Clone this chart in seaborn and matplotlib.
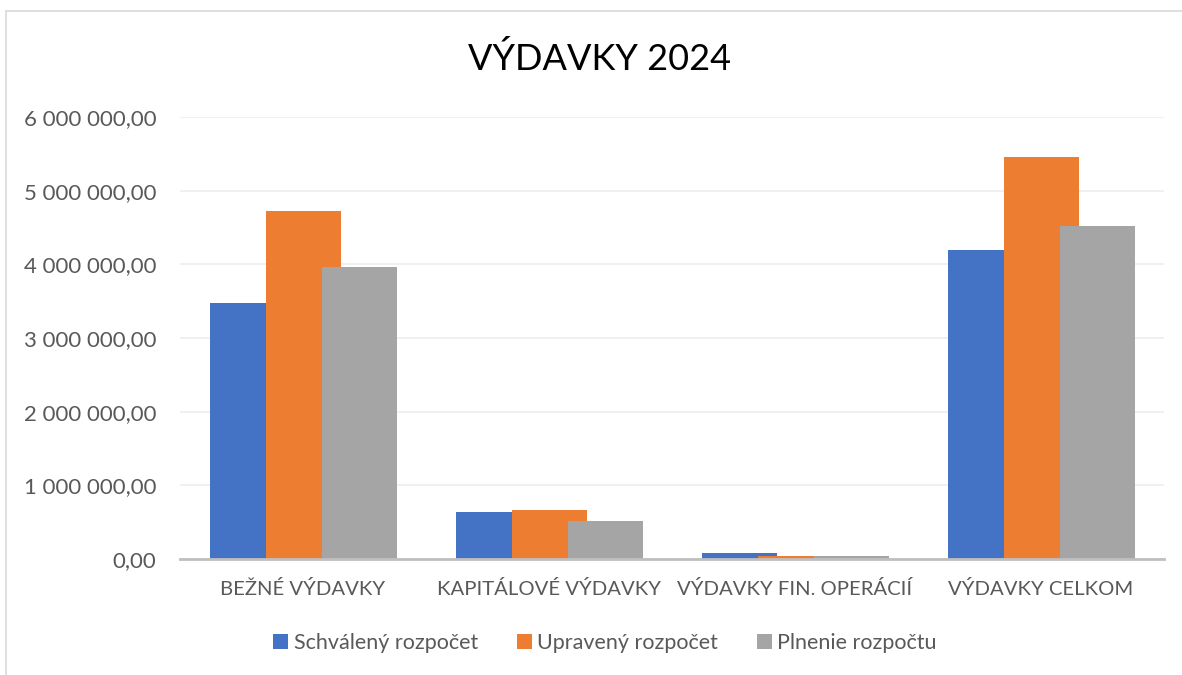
import matplotlib
matplotlib.use("Agg")
import matplotlib.pyplot as plt
from matplotlib.patches import Patch
from matplotlib.lines import Line2D
from matplotlib.ticker import FuncFormatter
import pandas as pd
import seaborn as sns

# Data
categories = ["BEŽNÉ VÝDAVKY", "KAPITÁLOVÉ VÝDAVKY", "VÝDAVKY FIN. OPERÁCIÍ", "VÝDAVKY CELKOM"]
series = ["Schválený rozpočet", "Upravený rozpočet", "Plnenie rozpočtu"]
schvaleny = [3475000, 638000, 80000, 4193000]
upraveny = [4724000, 668000, 40000, 5455000]
plnenie = [3964000, 516000, 40000, 4525000]
colors = ["#4472C4", "#ED7D31", "#A5A5A5"]
y_ticks = [0, 1000000, 2000000, 3000000, 4000000, 5000000, 6000000]

df = pd.DataFrame({
    "kategoria": categories * 3,
    "rad": [s for s in series for _ in categories],
    "hodnota": schvaleny + upraveny + plnenie,
})

sns.set_theme(style="white")
plt.rcParams["font.family"] = ["Lato", "DejaVu Sans"]
text_color = "#595959"

fig = plt.figure(figsize=(11.82, 6.75), dpi=100)
ax = fig.add_axes([180 / 1182, 1 - 559 / 675, 984 / 1182, 442 / 675])

step = 56 / 246   # distance between neighbouring bars (category units)
bar_w = 75 / 246  # drawn bar width, bars overlap like in Excel
sns.barplot(data=df, x="kategoria", y="hodnota", hue="rad", order=categories,
            hue_order=series, palette=colors, width=3 * step, gap=0,
            saturation=1, legend=False, ax=ax, linewidth=0, errorbar=None)
for p in ax.patches:
    p.set_x(p.get_x() - (bar_w - step) / 2)
    p.set_width(bar_w)

ax.set_xlim(-0.5, 3.5)
ax.set_ylim(0, 6000000)
ax.set_yticks(y_ticks)
ax.yaxis.set_major_formatter(FuncFormatter(
    lambda v, _: f"{v:,.2f}".replace(",", " ").replace(".", ",")))
ax.grid(axis="y", color="#EDEDED", linewidth=1.2)
ax.set_axisbelow(True)
for side in ["top", "right", "left"]:
    ax.spines[side].set_visible(False)
ax.spines["bottom"].set_color("#BFBFBF")
ax.spines["bottom"].set_linewidth(2)
ax.set_xlabel("")
ax.set_ylabel("")
ax.tick_params(axis="y", length=0, pad=17, labelsize=16, labelcolor=text_color)
ax.tick_params(axis="x", length=0, pad=15, labelsize=14.6, labelcolor=text_color)

fig.text(600 / 1182, 1 - 59 / 675, "VÝDAVKY 2024", ha="center", va="center",
         fontsize=26, color="black")

handles = [Patch(facecolor=c, edgecolor="none") for c in colors]
fig.legend(handles, series, loc="center", bbox_to_anchor=(605 / 1182, 1 - 643 / 675),
           ncol=3, frameon=False, fontsize=15.5, labelcolor=text_color,
           handlelength=0.7, handleheight=0.7, handletextpad=0.25, columnspacing=1.8)

# chart area border (top and left visible in the reference)
fig.add_artist(Line2D([6 / 1182, 1], [1 - 11 / 675, 1 - 11 / 675],
                      transform=fig.transFigure, color="#D9D9D9", linewidth=1.2))
fig.add_artist(Line2D([6 / 1182, 6 / 1182], [0, 1 - 11 / 675],
                      transform=fig.transFigure, color="#D9D9D9", linewidth=1.2))

fig.savefig("out.png", dpi=100)
